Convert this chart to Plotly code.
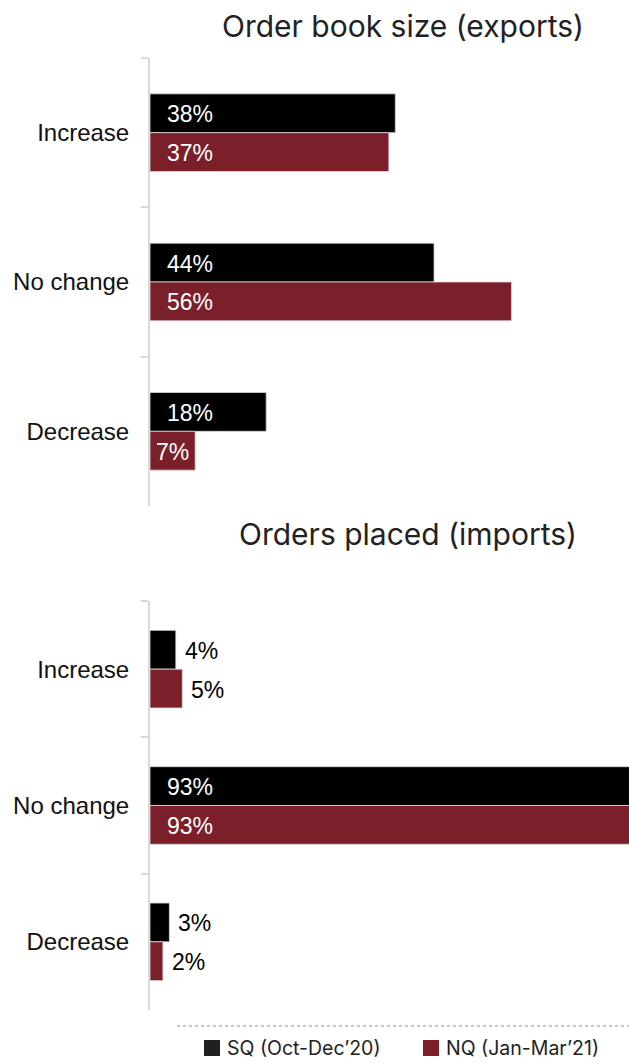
import plotly.graph_objects as go

# Survey responses (% of firms)
categories = ["Increase", "No change", "Decrease"]
series_names = ["SQ (Oct-Dec’20)", "NQ (Jan-Mar’21)"]
exports_sq = [38, 44, 18]
exports_nq = [37, 56, 7]
imports_sq = [4, 93, 3]
imports_nq = [5, 93, 2]
panel_titles = ["Order book size (exports)", "Orders placed (imports)"]

W, H = 629, 1064
LEFT = 150
PLOT_W = W - LEFT
X_MAX = 74.2
PX_PER_UNIT = PLOT_W / X_MAX

colors = ["#000000", "#7b1f2b"]
legend_colors = ["#231f20", "#7b1f2b"]
label_font = "Liberation Sans, Arial, sans-serif"
title_font = "Inter, Roboto, sans-serif"
LABEL_SIZE = 23

# vertical extents (px from top) of each panel's plot area
panels = [
    dict(top=58, bottom=506, series=[exports_sq, exports_nq], title_y=26, title_x=586),
    dict(top=601, bottom=1010, series=[imports_sq, imports_nq], title_y=534, title_x=579),
]


def px_x(px):
    return (px - LEFT) / PLOT_W


def px_y(px):
    return 1 - px / H


fig = go.Figure()
annotations = []
shapes = []

for p_i, panel in enumerate(panels):
    ax = "" if p_i == 0 else str(p_i + 1)
    cat_px = (panel["bottom"] - panel["top"]) / len(categories)
    bar_w = 38.8 / cat_px  # bar thickness in category units
    for s_i, (vals, name) in enumerate(zip(panel["series"], series_names)):
        offset = -bar_w if s_i == 0 else 0.0
        fig.add_trace(go.Bar(
            x=vals, y=categories, orientation="h",
            name=name, showlegend=False,
            marker=dict(color=colors[s_i], line=dict(color="#d9d9d9", width=0.8)),
            width=bar_w, offset=offset,
            xaxis="x" + ax, yaxis="y" + ax,
            hoverinfo="skip",
        ))
        for c_i, v in enumerate(vals):
            txt = f"{v}%"
            bar_px = v * PX_PER_UNIT
            text_px = ((len(txt) - 1) * 0.556 + 0.889) * LABEL_SIZE
            ypos = c_i + offset + bar_w / 2
            if bar_px >= text_px + 8:
                if bar_px > 100:
                    a = dict(x=0, xanchor="left", xshift=15)
                else:
                    a = dict(x=v / 2, xanchor="center", xshift=0)
                color = "#ffffff"
            else:
                a = dict(x=v, xanchor="left", xshift=7)
                color = "#000000"
            annotations.append(dict(
                text=txt, y=ypos, yanchor="middle", yshift=-1, showarrow=False,
                xref="x" + ax, yref="y" + ax,
                font=dict(family=label_font, size=LABEL_SIZE, color=color),
                **a,
            ))
    annotations.append(dict(
        text=panel_titles[p_i], xref="paper", yref="paper",
        x=px_x(panel["title_x"]), y=px_y(panel["title_y"]),
        xanchor="right", yanchor="middle", showarrow=False,
        font=dict(family=title_font, size=30, color="#222222"),
    ))
    dom = [px_y(panel["bottom"]), px_y(panel["top"])]
    fig.layout["xaxis" + ax] = dict(
        domain=[0, 1], range=[0, X_MAX], visible=False, fixedrange=True,
        anchor="y" + ax,
    )
    fig.layout["yaxis" + ax] = dict(
        domain=dom, type="category", categoryorder="array",
        categoryarray=categories, autorange="reversed",
        anchor="x" + ax, showline=True, linecolor="#d9d9d9", linewidth=2,
        ticks="outside", tickson="boundaries", ticklen=7, tickcolor="#d9d9d9",
        tickwidth=1.5, showgrid=False, zeroline=False,
        tickfont=dict(family=label_font, size=24, color="#111111"),
        ticklabelstandoff=14,
    )

# Legend row below the charts: swatch + series name
legend_x = [204, 423]
for s_i, name in enumerate(series_names):
    x0 = legend_x[s_i]
    shapes.append(dict(
        type="rect", xref="paper", yref="paper",
        x0=px_x(x0), x1=px_x(x0 + 16), y0=px_y(1056), y1=px_y(1040),
        fillcolor=legend_colors[s_i], line=dict(width=0),
    ))
    annotations.append(dict(
        text=name, xref="paper", yref="paper",
        x=px_x(x0 + 21), y=px_y(1048), xanchor="left", yanchor="middle",
        showarrow=False,
        font=dict(family=title_font, size=19.5, color="#222222"),
    ))

shapes.append(dict(
    type="line", xref="paper", yref="paper",
    x0=px_x(177), x1=1, y0=px_y(1026), y1=px_y(1026),
    line=dict(color="#8c8c8c", width=1, dash="dot"),
))

fig.update_layout(
    width=W, height=H,
    margin=dict(l=LEFT, r=0, t=0, b=0, autoexpand=False),
    paper_bgcolor="white", plot_bgcolor="white",
    barmode="overlay",
    showlegend=False,
    annotations=annotations,
    shapes=shapes,
)

fig.write_html("out.html")
